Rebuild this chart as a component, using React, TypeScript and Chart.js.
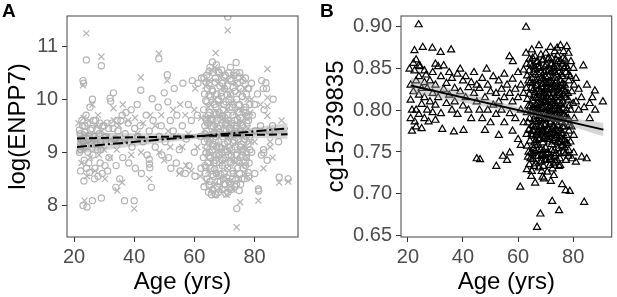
import React, { useEffect, useRef } from "react";
import { Chart, registerables } from "chart.js";

Chart.register(...registerables);

const FONT = "'Liberation Sans', Arial, Helvetica, sans-serif";

// ---- tick labels ----
const ageTicks = [20, 40, 60, 80];
const enppTicks = [8, 9, 10, 11];
const cgTicks = [0.65, 0.7, 0.75, 0.8, 0.85, 0.9];

// ---- Panel A: log(ENPP7) vs age, two groups ----
const enppCircles: number[][] = [
  [22, 9.35], [22.3, 9.05], [22.6, 9.6], [23, 10.35], [23.2, 10.3], [23, 8.0], [23.3, 8.46], [23.1, 9.2], [23.4, 8.85], [23.6, 9.5],
  [24.1, 10.74], [24, 9.7], [24.2, 8.7], [24.3, 7.97], [24.6, 9.0], [25, 9.3], [25.2, 8.62], [25.3, 9.85], [26.1, 10.0], [26.1, 8.09],
  [26, 9.45], [26.3, 8.95], [27, 8.7], [27.2, 9.6], [27.4, 9.15], [28, 8.55], [28.3, 9.35], [29.1, 10.63], [29.1, 8.14], [29, 9.05],
  [29.4, 8.6], [30, 9.5], [30.3, 8.75], [31, 9.55], [31.2, 8.65], [32, 10.02], [32.2, 9.96], [32.4, 9.2], [33.1, 10.12], [33.9, 8.34],
  [33, 9.45], [34, 8.75], [34.3, 9.6], [35, 9.2], [35.2, 8.5], [36, 9.7], [36.2, 8.9], [36.8, 8.09], [37, 9.35], [37.3, 9.75],
  [38, 9.55], [38.2, 8.8], [39, 9.8], [39.3, 9.1], [40, 8.09], [40.2, 9.45], [40.4, 8.7], [41, 9.9], [41.2, 9.3], [42.2, 10.17],
  [42, 9.5], [42.4, 8.6], [43, 9.2], [44, 9.7], [44.3, 8.95], [45, 8.87], [45.1, 8.78], [45.2, 8.71], [45.7, 8.34], [45, 9.4],
  [46, 10.01], [46.3, 9.6], [47, 9.1], [48.2, 10.76], [48, 9.85], [48.3, 9.3], [49, 9.5], [49.2, 8.95], [50, 10.12], [50.3, 9.2],
  [51, 10.46], [51.2, 9.95], [51.4, 8.9], [52, 9.6], [52.2, 8.7], [53, 9.4], [53.3, 10.2], [54, 8.8], [54.2, 9.7], [55, 9.05],
  [55.3, 8.65], [56, 9.5], [56.2, 10.3], [57, 8.6], [57.3, 9.25], [58, 9.9], [58.2, 8.75], [59, 9.6], [59.3, 10.35], [60, 9.0],
  [60.2, 8.55], [61, 9.7], [61.2, 10.3], [62, 9.3], [62.2, 8.7], [62.4, 10.4],
  [21.8, 9.42], [22.4, 9.25], [22.8, 9.5], [23.5, 9.38], [23.8, 9.12], [24.4, 9.55], [24.8, 9.25], [25.5, 9.42], [25.8, 9.15], [26.6, 9.6],
  [26.8, 9.3], [27.6, 9.42], [27.8, 9.05], [28.6, 9.55], [28.8, 9.2], [29.6, 9.5], [30.6, 9.3], [31.5, 9.45], [32.6, 9.55], [33.6, 9.25],
  [34.6, 9.4], [35.6, 9.6], [21.8, 9.0], [22.2, 8.65], [24.9, 8.8], [26.8, 8.5], [28.7, 8.8], [31.6, 8.9],
];

const enppCirclesOld: number[][] = [
  [63.2, 10.4], [63.4, 10.1], [63.1, 9.8], [63.5, 9.5], [63.3, 9.2], [63.0, 8.9], [63.6, 8.6], [63.2, 8.35],
  [64.1, 10.45], [64.4, 10.2], [64.2, 9.95], [64.6, 9.7], [64.0, 9.4], [64.3, 9.1], [64.5, 8.8], [64.2, 8.5], [64.7, 8.25],
  [65.2, 10.6], [65.0, 10.3], [65.4, 10.05], [65.1, 9.75], [65.6, 9.5], [65.3, 9.25], [65.0, 9.0], [65.5, 8.7], [65.2, 8.45], [65.7, 8.2],
  [66.0, 10.7], [66.3, 10.5], [66.1, 10.15], [66.6, 9.9], [66.2, 9.6], [66.4, 9.35], [66.0, 9.05], [66.5, 8.8], [66.3, 8.55], [66.1, 8.3],
  [67.3, 10.65], [67.0, 10.4], [67.5, 10.1], [67.2, 9.85], [67.6, 9.6], [67.1, 9.3], [67.4, 9.1], [67.0, 8.85], [67.3, 8.6], [67.6, 8.35], [67.2, 8.2],
  [68.2, 10.5], [68.5, 10.25], [68.0, 10.0], [68.3, 9.75], [68.6, 9.5], [68.1, 9.2], [68.4, 8.95], [68.2, 8.7], [68.6, 8.45], [68.0, 8.25],
  [69.1, 10.55], [69.4, 10.3], [69.0, 10.05], [69.6, 9.8], [69.2, 9.55], [69.5, 9.3], [69.1, 9.0], [69.3, 8.75], [69.6, 8.5], [69.2, 8.3],
  [70.3, 10.45], [70.0, 10.2], [70.5, 9.95], [70.2, 9.65], [70.6, 9.4], [70.1, 9.15], [70.4, 8.9], [70.0, 8.6], [70.3, 8.4], [70.5, 8.22],
  [71.1, 11.55], [71.4, 10.5], [71.0, 10.25], [71.5, 10.0], [71.2, 9.7], [71.6, 9.45], [71.1, 9.2], [71.3, 8.95], [71.0, 8.7], [71.5, 8.45], [71.2, 8.25],
  [72.0, 10.6], [72.4, 10.35], [72.1, 10.1], [72.6, 9.85], [72.3, 9.55], [72.0, 9.3], [72.5, 9.05], [72.2, 8.8], [72.6, 8.5], [72.3, 8.3],
  [73.2, 10.45], [73.5, 10.15], [73.0, 9.9], [73.4, 9.6], [73.1, 9.35], [73.6, 9.1], [73.3, 8.85], [73.0, 8.6], [73.5, 8.35],
  [73.9, 10.69], [74.3, 10.3], [74.0, 10.0], [74.5, 9.75], [74.2, 9.5], [74.6, 9.25], [74.1, 8.95], [74.4, 8.7], [74.0, 8.4], [74.1, 7.94],
  [75.1, 10.5], [75.4, 10.2], [75.0, 9.9], [75.5, 9.65], [75.2, 9.4], [75.6, 9.15], [75.3, 8.9], [75.0, 8.6], [75.4, 8.4],
  [76.2, 10.35], [76.0, 10.05], [76.5, 9.8], [76.1, 9.5], [76.4, 9.2], [76.0, 8.95], [76.3, 8.7], [76.6, 8.5],
  [77.0, 10.4], [77.3, 10.1], [77.1, 9.85], [77.5, 9.55], [77.2, 9.3], [77.4, 9.0], [77.0, 8.75],
  [78.1, 10.2], [78.4, 9.9], [78.0, 9.6], [78.3, 9.3], [78.5, 9.05], [78.2, 8.8], [78.0, 8.55],
  [79, 10.3], [79.3, 9.7], [79.1, 9.0], [80, 9.9], [80.3, 9.4], [80.1, 8.6], [81, 10.1], [81.3, 8.31], [81.4, 8.27], [82, 9.5],
  [82.3, 8.95], [83, 9.05], [83.1, 8.99], [83.2, 9.8], [84, 10.2], [84.2, 8.85], [85, 9.4], [86, 9.5], [86.2, 10.0], [88.2, 8.53],
  [88, 9.2], [91.2, 8.5], [82.4, 10.35], [83.8, 10.31], [82.9, 10.2],
];

const enppCirclesCore: number[][] = [
  [63.9, 10.32], [63.8, 9.97], [63.9, 9.62], [63.7, 9.33], [63.9, 8.98], [63.8, 8.72],
  [64.9, 10.52], [64.9, 10.08], [64.8, 9.55], [64.9, 9.18], [64.8, 8.93], [64.9, 8.38],
  [65.9, 10.18], [65.8, 9.62], [65.9, 9.12], [65.9, 8.58], [66.9, 10.32], [66.8, 9.75], [66.9, 9.22], [66.8, 8.68], [66.9, 8.22],
  [67.9, 10.52], [67.9, 9.97], [67.8, 9.45], [67.9, 8.98], [67.8, 8.45], [68.9, 10.12], [68.8, 9.62], [68.9, 9.08], [68.8, 8.58],
  [69.9, 10.42], [69.8, 9.9], [69.9, 9.42], [69.8, 8.88], [69.9, 8.4], [70.9, 10.08], [70.8, 9.55], [70.9, 9.02], [70.8, 8.52],
  [71.9, 10.38], [71.8, 9.85], [71.9, 9.32], [71.8, 8.82], [71.9, 8.33], [72.9, 10.22], [72.8, 9.7], [72.9, 9.18], [72.8, 8.65],
  [73.9, 10.5], [73.8, 9.45], [73.9, 8.95], [73.8, 8.48], [74.9, 10.42], [74.8, 9.88], [74.9, 9.35], [74.8, 8.82], [74.9, 8.28],
  [75.9, 10.05], [75.8, 9.52], [75.9, 9.02], [75.8, 8.5], [76.9, 10.28], [76.9, 9.75], [76.8, 9.25], [76.9, 8.82],
  [77.8, 10.2], [77.9, 9.68], [77.8, 9.15], [77.9, 8.62],
  [63.5, 9.35], [64.3, 9.55], [65.3, 9.62], [66.3, 9.48], [67.3, 9.72], [68.3, 9.38], [69.3, 9.68], [70.3, 9.52], [71.3, 9.6], [72.3, 9.42],
  [73.3, 9.5], [74.3, 9.62], [75.3, 9.55], [76.3, 9.35], [77.3, 9.68],
  [63.5, 8.75], [64.3, 9.25], [65.3, 8.9], [66.3, 9.15], [67.3, 8.95], [68.3, 9.1], [69.3, 8.85], [70.3, 9.05], [71.3, 9.1], [72.3, 8.95],
  [73.3, 9.22], [74.3, 8.85], [75.3, 9.1], [76.3, 9.05], [77.3, 8.9],
];

const enppCrosses: number[][] = [
  [21.5, 9.55], [22, 9.1], [22.5, 8.8], [23, 10.26], [23.2, 9.65], [23.5, 8.09], [24.1, 11.24], [24, 9.35], [24.3, 8.55], [25, 9.6],
  [25.3, 8.9], [26.1, 9.9], [26.3, 9.25], [27, 8.65], [27.3, 9.5], [28, 9.7], [28.3, 8.95], [29.1, 10.8], [29.3, 9.4], [30, 9.05],
  [30.3, 8.5], [31, 9.3], [32, 8.9], [33.1, 9.83], [33.3, 9.6], [34.4, 8.28], [34.2, 9.05], [35, 9.5], [36, 8.43], [36.2, 9.9],
  [37, 9.2], [38, 9.6], [39, 8.95], [40, 7.94], [40.3, 9.65], [41, 9.35], [42.2, 10.41], [42.3, 9.0], [43, 9.55], [44, 9.25],
  [45, 8.5], [45.3, 9.7], [47, 9.5], [48.2, 10.86], [48.3, 9.0], [49, 9.7], [50, 8.85], [51, 10.35], [51.3, 9.4], [52, 9.1],
  [53, 9.8], [54, 9.3], [55, 8.6], [55.3, 9.9], [56, 9.1], [57, 9.7], [57.3, 8.75], [58, 9.35], [59, 8.65], [60, 9.8],
  [60.3, 10.2], [61, 9.1], [62, 8.55], [62.3, 9.65],
];

const enppCrossesOld: number[][] = [
  [63.7, 10.25], [63.8, 9.65], [63.6, 9.05], [63.9, 8.45], [64.8, 10.35], [64.6, 9.85], [64.9, 9.25], [64.7, 8.65],
  [65.8, 10.55], [65.6, 9.9], [65.9, 9.35], [65.7, 8.8], [65.5, 8.3], [66.8, 10.6], [66.7, 10.0], [66.9, 9.45], [66.6, 8.9], [66.8, 8.4],
  [67.1, 10.87], [67.8, 10.3], [67.9, 9.7], [67.7, 9.15], [67.8, 8.6], [68.8, 10.4], [68.7, 9.9], [68.9, 9.35], [68.7, 8.8], [68.9, 8.3],
  [69.8, 10.2], [69.7, 9.65], [69.9, 9.1], [69.8, 8.55], [70.8, 10.35], [70.7, 9.8], [70.9, 9.25], [70.8, 8.7], [70.7, 8.2],
  [71.1, 11.3], [71.8, 10.1], [71.7, 9.55], [71.9, 9.0], [71.8, 8.45], [72.8, 10.45], [72.7, 9.95], [72.9, 9.4], [72.8, 8.85], [72.7, 8.3],
  [73.8, 10.3], [73.7, 9.75], [73.9, 9.2], [73.8, 8.6], [74.1, 7.59], [74.8, 10.15], [74.7, 9.6], [74.9, 9.05], [74.8, 8.5],
  [75.2, 8.06], [75.8, 10.4], [75.7, 9.8], [75.9, 9.3], [75.8, 8.75], [76.8, 10.2], [76.7, 9.65], [76.9, 9.1], [76.8, 8.6],
  [77.7, 10.0], [77.8, 9.45], [77.6, 8.9], [78.6, 9.75], [78.8, 9.2], [78.7, 8.5],
  [79, 10.0], [80, 9.2], [81.3, 8.09], [82, 9.9], [83, 8.7], [84.3, 10.57], [84.3, 10.03], [84.3, 9.87], [84.3, 9.69], [85.2, 9.2],
  [85.2, 9.1], [86, 8.9], [88.2, 8.43], [89, 9.6], [91.2, 8.45],
];

// regression fits and confidence bands, panel A
const fitAgeEnds = [21, 91];
const fitDashed = [9.26, 9.34];
const fitDotDash = [9.1, 9.45];
const bandAges = [21, 40, 60, 70, 91];
const bandDashedUpper = [9.38, 9.357, 9.35, 9.361, 9.425];
const bandDashedLower = [9.14, 9.207, 9.26, 9.271, 9.255];
const bandDotDashUpper = [9.23, 9.275, 9.345, 9.395, 9.55];
const bandDotDashLower = [8.97, 9.115, 9.245, 9.295, 9.35];

// ---- Panel B: cg15739835 vs age ----
const cgYoung: number[][] = [
  [20.6, 0.849], [21, 0.83], [21, 0.812], [21, 0.79], [21.5, 0.8], [21.5, 0.775], [22, 0.856], [22.4, 0.871], [22.4, 0.847], [22, 0.822],
  [22.5, 0.786], [23, 0.86], [23, 0.835], [23, 0.8], [23, 0.78], [23.9, 0.902], [24, 0.853], [24, 0.84], [24, 0.818], [24, 0.795],
  [24.5, 0.852], [25.4, 0.875], [25, 0.826], [25, 0.807], [25, 0.778], [26, 0.847], [26, 0.833], [26, 0.815], [26, 0.79], [26.6, 0.842],
  [27, 0.8], [27, 0.826], [27.5, 0.786], [28, 0.81], [28, 0.835], [28.9, 0.874], [29, 0.845], [29, 0.82], [29, 0.797], [30, 0.855],
  [30, 0.83], [30, 0.806], [30, 0.788], [31, 0.852], [31.9, 0.869], [31, 0.815], [32, 0.84], [32, 0.796], [32.5, 0.777], [33, 0.825],
  [33, 0.853], [34, 0.808], [34, 0.832], [35, 0.845], [35, 0.818], [35.7, 0.872], [36, 0.8], [36.7, 0.774], [36, 0.838], [37, 0.826],
  [37, 0.81], [38, 0.843], [38, 0.795], [39, 0.849], [39, 0.822], [40, 0.835], [40.2, 0.776], [40, 0.805], [41, 0.84], [41, 0.815],
  [42, 0.827], [42, 0.8], [43, 0.833], [43, 0.79], [44, 0.82], [44, 0.845], [45, 0.742], [45, 0.81], [45, 0.83], [46.2, 0.741],
];

const cgMid: number[][] = [
  [46, 0.8], [46, 0.826], [47, 0.838], [47, 0.79], [48, 0.776], [48.6, 0.849], [48, 0.815], [49, 0.83], [49, 0.8], [50, 0.822],
  [50, 0.785], [51, 0.84], [51, 0.806], [52.1, 0.733], [52, 0.82], [52, 0.795], [53, 0.835], [53, 0.81], [53, 0.77], [54, 0.825],
  [54, 0.8], [54.5, 0.745], [55, 0.843], [55, 0.815], [55, 0.785], [56, 0.83], [56, 0.74], [56.9, 0.864], [57, 0.82], [57, 0.796],
  [57, 0.749], [58.1, 0.858], [58, 0.837], [58, 0.81], [58, 0.775], [59, 0.825], [59, 0.79], [60, 0.845], [60, 0.815], [60, 0.765],
  [60.8, 0.708], [61, 0.83], [61, 0.8], [61, 0.758], [62, 0.848], [62, 0.82], [62, 0.785], [62.9, 0.899], [62.9, 0.868],
];

const cgOld: number[][] = [
  [63.1, 0.855], [63.3, 0.841], [63.0, 0.826], [63.4, 0.813], [63.2, 0.797], [63.5, 0.785], [63.1, 0.771], [63.3, 0.757], [63.6, 0.744], [63.2, 0.729],
  [64.2, 0.861], [64.0, 0.847], [64.4, 0.833], [64.1, 0.819], [64.5, 0.805], [64.2, 0.79], [64.0, 0.777], [64.3, 0.763], [64.6, 0.749], [64.1, 0.735], [64.8, 0.721],
  [65.0, 0.872], [65.3, 0.853], [65.1, 0.838], [65.5, 0.824], [65.2, 0.811], [65.0, 0.797], [65.4, 0.782], [65.1, 0.769], [65.6, 0.754], [65.3, 0.741], [65.0, 0.727],
  [66.2, 0.864], [66.0, 0.849], [66.4, 0.835], [66.1, 0.821], [66.6, 0.806], [66.3, 0.793], [66.0, 0.779], [66.5, 0.764], [66.2, 0.751], [66.4, 0.736], [66.2, 0.713],
  [67.6, 0.877], [67.1, 0.858], [67.4, 0.843], [67.0, 0.83], [67.3, 0.815], [67.6, 0.801], [67.2, 0.786], [67.5, 0.773], [67.0, 0.758], [67.3, 0.745], [67.6, 0.731], [66.9, 0.66],
  [68.3, 0.866], [68.0, 0.852], [68.5, 0.838], [68.2, 0.822], [68.6, 0.809], [68.1, 0.794], [68.4, 0.781], [68.0, 0.766], [68.3, 0.753], [68.6, 0.739], [68.6, 0.727], [68.1, 0.676],
  [69.2, 0.86], [69.5, 0.845], [69.0, 0.831], [69.4, 0.816], [69.1, 0.802], [69.6, 0.789], [69.3, 0.774], [69.0, 0.761], [69.5, 0.746], [69.2, 0.733], [69.4, 0.718],
  [70.1, 0.868], [70.4, 0.854], [70.0, 0.84], [70.5, 0.825], [70.2, 0.811], [70.6, 0.796], [70.1, 0.783], [70.4, 0.768], [70.0, 0.755], [70.3, 0.74], [70.6, 0.726],
  [71.8, 0.875], [71.2, 0.848], [71.5, 0.833], [71.0, 0.819], [71.3, 0.804], [71.6, 0.79], [71.1, 0.777], [71.4, 0.762], [71.0, 0.749], [71.5, 0.734],
  [72.2, 0.862], [72.0, 0.846], [72.5, 0.831], [72.1, 0.815], [72.4, 0.801], [72.0, 0.786], [72.6, 0.772], [72.3, 0.759], [72.1, 0.744], [72.5, 0.73], [72.4, 0.691],
  [73.3, 0.87], [73.0, 0.852], [73.4, 0.838], [73.1, 0.823], [73.6, 0.808], [73.2, 0.794], [73.0, 0.781], [73.5, 0.766], [73.2, 0.752], [73.6, 0.738], [73.0, 0.722],
  [74.2, 0.874], [74.5, 0.858], [74.0, 0.842], [74.3, 0.827], [74.6, 0.81], [74.1, 0.796], [74.4, 0.782], [74.0, 0.768], [74.5, 0.754], [74.2, 0.74],
  [75.4, 0.877], [75.1, 0.85], [75.5, 0.835], [75.0, 0.82], [75.3, 0.806], [75.6, 0.79], [75.2, 0.776], [75.5, 0.762], [75.0, 0.748], [75.3, 0.734], [74.9, 0.68],
  [76.5, 0.87], [76.2, 0.855], [76.0, 0.84], [76.4, 0.825], [76.1, 0.81], [76.6, 0.795], [76.2, 0.78], [76.0, 0.765], [76.4, 0.75], [76.0, 0.711],
  [77.7, 0.876], [77.1, 0.86], [77.4, 0.845], [77.0, 0.83], [77.3, 0.815], [77.6, 0.8], [77.2, 0.785], [77.5, 0.77], [77.0, 0.755], [77.4, 0.74], [77.3, 0.704],
  [78.3, 0.868], [78.0, 0.85], [78.4, 0.835], [78.1, 0.82], [78.6, 0.805], [78.2, 0.79], [78.5, 0.775], [78.0, 0.76], [78.3, 0.745], [78.8, 0.703],
  [79.2, 0.858], [79.0, 0.84], [79.5, 0.822], [79.1, 0.8], [79.4, 0.78], [79.0, 0.762], [79.6, 0.742],
  [80.1, 0.85], [80.3, 0.83], [80.0, 0.808], [80.4, 0.79], [80.2, 0.77], [80.2, 0.749],
];

const cgCore: number[][] = [
  [65.6, 0.845], [65.8, 0.817], [65.7, 0.789], [65.9, 0.761], [65.8, 0.733], [66.8, 0.857], [66.7, 0.829], [66.9, 0.801], [66.8, 0.773], [66.7, 0.745],
  [67.8, 0.85], [67.9, 0.822], [67.8, 0.794], [67.7, 0.766], [67.9, 0.738], [68.8, 0.859], [68.9, 0.831], [68.7, 0.803], [68.9, 0.775], [68.8, 0.747], [68.9, 0.72],
  [69.8, 0.852], [69.7, 0.824], [69.9, 0.796], [69.8, 0.768], [69.7, 0.74], [70.8, 0.861], [70.9, 0.833], [70.7, 0.805], [70.8, 0.777], [70.9, 0.749],
  [71.8, 0.855], [71.7, 0.827], [71.9, 0.799], [71.8, 0.771], [71.7, 0.743], [71.9, 0.715], [72.8, 0.848], [72.9, 0.82], [72.7, 0.792], [72.8, 0.764], [72.9, 0.736],
  [73.8, 0.86], [73.7, 0.832], [73.9, 0.804], [73.8, 0.776], [73.7, 0.748], [74.8, 0.845], [74.9, 0.817], [74.7, 0.789], [74.8, 0.761], [74.9, 0.733],
  [75.8, 0.843], [75.7, 0.815], [75.9, 0.786], [75.8, 0.757], [76.8, 0.85], [76.9, 0.822], [76.7, 0.793], [76.8, 0.764],
  [66.4, 0.8], [67.2, 0.808], [68.4, 0.788], [69.3, 0.81], [70.3, 0.79], [71.3, 0.812], [72.3, 0.795], [73.3, 0.815], [74.3, 0.79], [75.2, 0.8],
  [66.6, 0.77], [67.8, 0.78], [69.0, 0.775], [70.5, 0.765], [71.6, 0.785], [72.6, 0.78], [73.9, 0.77], [74.6, 0.8], [68.2, 0.818], [70.0, 0.82],
  [72.0, 0.825], [74.0, 0.835], [69.6, 0.835], [71.0, 0.84], [67.5, 0.825], [65.5, 0.8], [75.6, 0.772],
];

const cgDense: number[][] = [
  [64.5, 0.855], [64.7, 0.826], [64.6, 0.798], [64.8, 0.771], [64.5, 0.742], [65.3, 0.862], [65.2, 0.832], [65.4, 0.803], [65.3, 0.776], [65.2, 0.748],
  [66.3, 0.842], [66.4, 0.814], [66.2, 0.786], [66.3, 0.758], [67.2, 0.852], [67.3, 0.836], [67.1, 0.797], [67.4, 0.765], [67.2, 0.752],
  [68.2, 0.845], [68.4, 0.828], [68.3, 0.801], [68.2, 0.773], [68.4, 0.745], [69.2, 0.838], [69.3, 0.82], [69.2, 0.793], [69.4, 0.766], [69.2, 0.752],
  [70.2, 0.847], [70.3, 0.832], [70.4, 0.803], [70.2, 0.776], [70.3, 0.748], [71.2, 0.862], [71.4, 0.825], [71.3, 0.797], [71.2, 0.769], [71.4, 0.741],
  [72.3, 0.855], [72.2, 0.838], [72.4, 0.808], [72.3, 0.777], [72.2, 0.752], [73.2, 0.845], [73.4, 0.828], [73.2, 0.8], [73.3, 0.773], [73.4, 0.745],
  [74.3, 0.865], [74.4, 0.85], [74.2, 0.818], [74.3, 0.775], [74.4, 0.762], [75.3, 0.858], [75.2, 0.828], [75.4, 0.798], [75.3, 0.768], [75.2, 0.742],
  [76.3, 0.862], [76.2, 0.832], [76.4, 0.802], [76.3, 0.772], [76.2, 0.758], [77.3, 0.852], [77.2, 0.822], [77.4, 0.792], [77.3, 0.762], [77.2, 0.748],
  [63.8, 0.835], [63.7, 0.805], [63.9, 0.776], [63.8, 0.75], [78.4, 0.842], [78.3, 0.812], [78.5, 0.782], [78.4, 0.752],
  [65.9, 0.852], [66.9, 0.78], [67.9, 0.808], [68.9, 0.79], [69.9, 0.812], [70.9, 0.792], [71.9, 0.835], [72.9, 0.805], [73.9, 0.79], [74.9, 0.8],
  [75.9, 0.83], [76.9, 0.78], [65.6, 0.775], [66.6, 0.815], [67.6, 0.79], [68.6, 0.815], [69.6, 0.782], [70.6, 0.815], [71.6, 0.805], [72.6, 0.81],
  [73.6, 0.785], [74.6, 0.825], [75.6, 0.808], [76.6, 0.818],
];

const cgOldest: number[][] = [
  [81, 0.838], [81, 0.81], [81, 0.738], [82, 0.8], [82, 0.825], [83.1, 0.744], [83, 0.815], [83.7, 0.853], [84, 0.69], [84, 0.803],
  [84.9, 0.742], [85, 0.83], [86, 0.808], [86, 0.79], [87, 0.815], [87.9, 0.823], [88, 0.8], [90.8, 0.81],
];

const fitCg = [0.8295, 0.7767];
const bandCgAges = [21, 40, 60, 70, 91];
const bandCgUpper = [0.8389, 0.8212, 0.8037, 0.7962, 0.7846];
const bandCgLower = [0.8201, 0.8092, 0.7965, 0.789, 0.7688];

// ---- helpers ----
const pts = (arr: number[][]) => arr.map(([x, y]) => ({ x, y }));
const zip = (xs: number[], ys: number[]) => xs.map((x, i) => ({ x, y: ys[i] }));

const GREY_PT = "#b4b4b4";
const BAND = "rgba(153,153,153,0.4)";

function framePlugin(label: string, lx: number, ly: number) {
  return {
    id: "frame" + label,
    afterDatasetsDraw(chart: any) {
      const { ctx, chartArea: a } = chart;
      ctx.save();
      ctx.strokeStyle = "#555555";
      ctx.lineWidth = 1.1;
      ctx.strokeRect(a.left, a.top, a.right - a.left, a.bottom - a.top);
      ctx.restore();
    },
    afterDraw(chart: any) {
      const { ctx } = chart;
      ctx.save();
      ctx.fillStyle = "#000";
      ctx.font = `bold 19px ${FONT}`;
      ctx.textBaseline = "alphabetic";
      ctx.textAlign = "left";
      ctx.fillText(label, lx, ly);
      ctx.restore();
    },
  };
}

function axisX(min: number, max: number) {
  return {
    type: "linear",
    min,
    max,
    afterBuildTicks: (s: any) => {
      s.ticks = ageTicks.map((v) => ({ value: v }));
    },
    afterFit: (s: any) => {
      s.height = 60;
    },
    grid: { display: true, drawOnChartArea: false, drawTicks: true, tickLength: 5, color: "#333333", lineWidth: 1 },
    border: { display: false },
    ticks: { color: "#4d4d4d", font: { family: FONT, size: 20 }, padding: 3, maxRotation: 0 },
    title: { display: true, text: "Age (yrs)", color: "#000", font: { family: FONT, size: 24 }, padding: { top: 0, bottom: 0 } },
  };
}

function axisY(min: number, max: number, ticks: number[], width: number, title: string, titlePad: number, fmt: (v: number) => string) {
  return {
    type: "linear",
    min,
    max,
    afterBuildTicks: (s: any) => {
      s.ticks = ticks.map((v) => ({ value: v }));
    },
    afterFit: (s: any) => {
      s.width = width;
    },
    grid: { display: true, drawOnChartArea: false, drawTicks: true, tickLength: 5, color: "#333333", lineWidth: 1 },
    border: { display: false },
    ticks: { color: "#4d4d4d", font: { family: FONT, size: 20 }, padding: 4, callback: (v: any) => fmt(Number(v)) },
    title: { display: true, text: title, color: "#000", font: { family: FONT, size: 24 }, padding: { top: titlePad, bottom: 0 } },
  };
}

function lineDs(data: any[], dash: number[], order: number) {
  return {
    type: "line",
    data,
    borderColor: "#000",
    borderWidth: 2,
    borderDash: dash,
    pointRadius: 0,
    fill: false,
    order,
  };
}

function bandDs(upper: any[], lower: any[]) {
  return [
    { type: "line", data: upper, borderWidth: 0, borderColor: "rgba(0,0,0,0)", pointRadius: 0, tension: 0.3, fill: "+1", backgroundColor: BAND, order: 1 },
    { type: "line", data: lower, borderWidth: 0, borderColor: "rgba(0,0,0,0)", pointRadius: 0, tension: 0.3, fill: false, order: 1 },
  ];
}

function baseOptions(scales: any, padding: any) {
  return {
    responsive: false,
    maintainAspectRatio: false,
    animation: false,
    events: [],
    layout: { padding },
    plugins: { legend: { display: false }, tooltip: { enabled: false }, title: { display: false } },
    scales,
  };
}

function PanelA() {
  const ref = useRef<HTMLCanvasElement>(null);
  useEffect(() => {
    if (!ref.current) return;
    const circleStyle = { pointStyle: "circle", pointRadius: 3.1, borderColor: GREY_PT, backgroundColor: "rgba(0,0,0,0)", pointBorderWidth: 1.2, showLine: false, order: 2 };
    const crossStyle = { pointStyle: "crossRot", pointRadius: 4.3, borderColor: GREY_PT, backgroundColor: "rgba(0,0,0,0)", pointBorderWidth: 1.2, showLine: false, order: 2 };
    const chart = new Chart(ref.current, {
      type: "scatter",
      data: {
        datasets: [
          lineDs(zip(fitAgeEnds, fitDashed), [8, 4], 0),
          lineDs(zip(fitAgeEnds, fitDotDash), [10, 3, 2, 3], 0),
          ...bandDs(zip(bandAges, bandDashedUpper), zip(bandAges, bandDashedLower)),
          ...bandDs(zip(bandAges, bandDotDashUpper), zip(bandAges, bandDotDashLower)),
          { data: pts(enppCircles), ...circleStyle },
          { data: pts(enppCirclesOld), ...circleStyle },
          { data: pts(enppCirclesCore), ...circleStyle },
          { data: pts(enppCrosses), ...crossStyle },
          { data: pts(enppCrossesOld), ...crossStyle },
        ] as any,
      },
      options: baseOptions(
        {
          x: axisX(17.67, 94.46),
          y: axisY(7.405, 11.567, enppTicks, 67, "log(ENPP7)", 4, (v) => String(v)),
        },
        { top: 13, right: 10, left: 0, bottom: 0 }
      ) as any,
      plugins: [framePlugin("A", 2, 17)],
    });
    return () => chart.destroy();
  }, []);
  return <canvas ref={ref} width={308} height={297} style={{ position: "absolute", left: 0, top: 0 }} />;
}

function PanelB() {
  const ref = useRef<HTMLCanvasElement>(null);
  useEffect(() => {
    if (!ref.current) return;
    const triStyle = { pointStyle: "triangle", pointRadius: 4.1, borderColor: "#000", backgroundColor: "rgba(0,0,0,0)", pointBorderWidth: 1.2, showLine: false, order: 2 };
    const chart = new Chart(ref.current, {
      type: "scatter",
      data: {
        datasets: [
          lineDs(zip(fitAgeEnds, fitCg), [], 0),
          ...bandDs(zip(bandCgAges, bandCgUpper), zip(bandCgAges, bandCgLower)),
          { data: pts(cgYoung), ...triStyle },
          { data: pts(cgMid), ...triStyle },
          { data: pts(cgOld), ...triStyle },
          { data: pts(cgCore), ...triStyle },
          { data: pts(cgDense), ...triStyle },
          { data: pts(cgOldest), ...triStyle },
        ] as any,
      },
      options: baseOptions(
        {
          x: axisX(17.5, 94.0),
          y: axisY(0.6485, 0.9124, cgTicks, 93, "cg15739835", 14, (v) => v.toFixed(2)),
        },
        { top: 4, right: 2, left: 0, bottom: 0 }
      ) as any,
      plugins: [framePlugin("B", 12, 17)],
    });
    return () => chart.destroy();
  }, []);
  return <canvas ref={ref} width={309} height={297} style={{ position: "absolute", left: 308, top: 0 }} />;
}

export default function App() {
  return (
    <div style={{ position: "fixed", left: 0, top: 0, width: 617, height: 297, background: "#fff", overflow: "hidden" }}>
      <PanelA />
      <PanelB />
    </div>
  );
}
